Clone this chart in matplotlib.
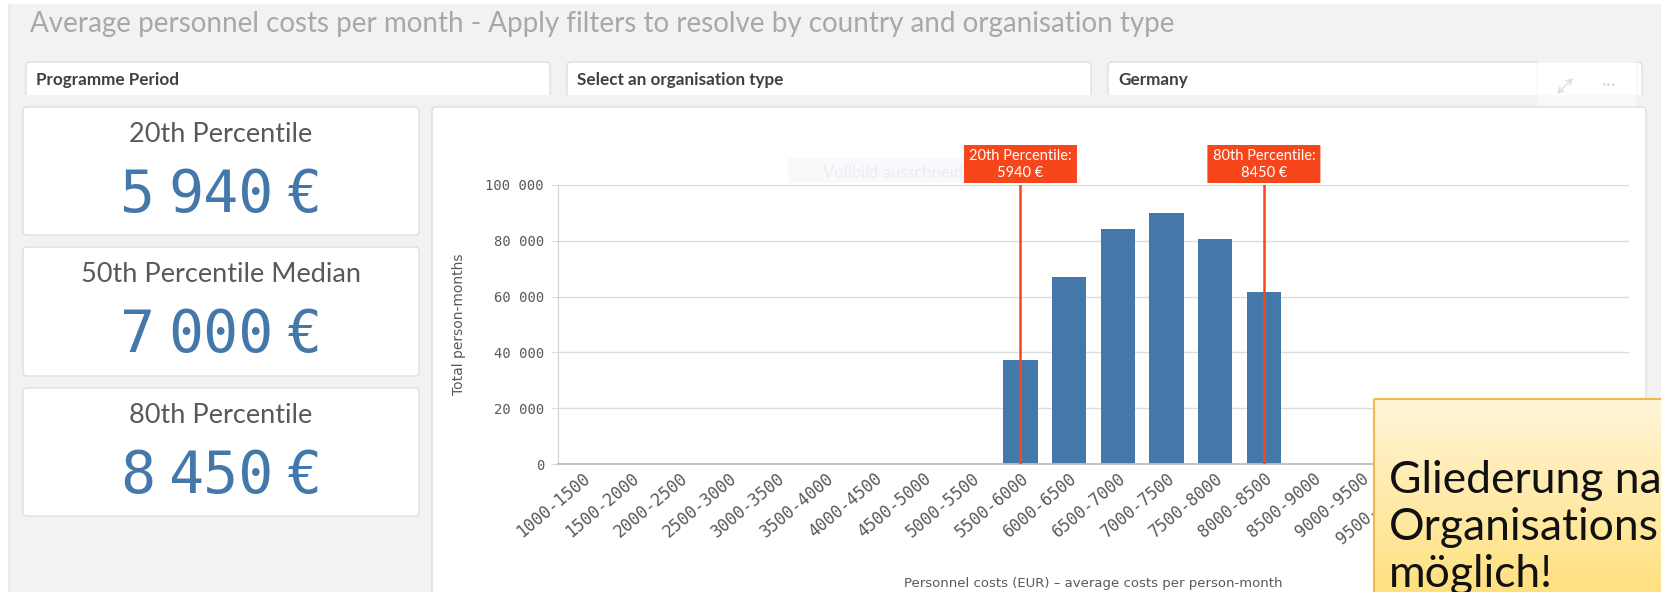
import matplotlib

matplotlib.use("Agg")
import matplotlib.pyplot as plt
import numpy as np
from matplotlib import transforms
from matplotlib.colors import LinearSegmentedColormap
from matplotlib.patches import FancyBboxPatch, Rectangle
from matplotlib.ticker import FuncFormatter

W, H = 1661, 592

# ---- data ------------------------------------------------------------------
title = "Average personnel costs per month - Apply filters to resolve by country and organisation type"
filters = ["Programme Period", "Select an organisation type", "Germany"]
cost_bins = [
    "1000-1500", "1500-2000", "2000-2500", "2500-3000", "3000-3500", "3500-4000",
    "4000-4500", "4500-5000", "5000-5500", "5500-6000", "6000-6500", "6500-7000",
    "7000-7500", "7500-8000", "8000-8500", "8500-9000", "9000-9500", "9500-10000",
    "10000-10500", "10500-11000", "11000-11500", "11500-12000",
]
person_months = [
    0, 0, 0, 0, 0, 0,
    0, 0, 0, 37400, 67200, 84400,
    89900, 80600, 61600, 0, 0, 0,
    0, 0, 0, 0,
]
kpi_names = ["20th Percentile", "50th Percentile Median", "80th Percentile"]
kpi_values = [5940, 7000, 8450]
ref_names = ["20th Percentile", "80th Percentile"]
ref_values = [5940, 8450]
# the note runs off the right edge of the dashboard; only this much is on screen
callout_lines = ["Gliederung na", "Organisations", "möglich!"]

BLUE = "#4477aa"
RED = "#f8461c"
TXT = "#595959"
EDGE = "#dedede"
BG = "#f2f2f2"
MONO = "DejaVu Sans Mono"
SANS = "Lato"

fig = plt.figure(figsize=(W / 100, H / 100), dpi=100)

# pixel-space canvas for the dashboard chrome
bg = fig.add_axes([0, 0, 1, 1])
bg.set_xlim(0, W); bg.set_ylim(H, 0); bg.axis("off")


def px_axes(x0, y0, x1, y1, **kw):
    return fig.add_axes([x0 / W, 1 - y1 / H, (x1 - x0) / W, (y1 - y0) / H], **kw)


def panel(ax, x0, y0, x1, y1, fc="white", ec=EDGE, r=4, **kw):
    ax.add_patch(FancyBboxPatch((x0, y0), x1 - x0, y1 - y0,
                                boxstyle=f"round,pad=0,rounding_size={r}",
                                fc=fc, ec=ec, lw=1, **kw))


def money(ax, cx, base, v, size, color):
    """Monospace amount with narrow thousands gap, e.g. 5 940 €."""
    parts = f"{v:,}".replace(",", " ").split() + ["€"]
    em = size * 100 / 72
    adv, gap = 0.602 * em, 0.22 * em
    widths = [len(p) * adv for p in parts]
    x = cx - (sum(widths) + gap * (len(parts) - 1)) / 2
    for p, w in zip(parts, widths):
        ax.text(x, base, p, ha="left", va="baseline", fontsize=size,
                family=MONO, color=color)
        x += w + gap


bg.add_patch(Rectangle((0, 0), W, H, fc=BG, ec="none"))
bg.add_patch(Rectangle((0, 0), 8, H, fc="white", ec="none"))
bg.add_patch(Rectangle((0, 0), W, 4, fc="white", ec="none"))
bg.plot([9, 9], [4, H], color="#e6e6e6", lw=1)

bg.text(30, 32, title, fontsize=20, family=SANS, color="#a8a8a8", va="baseline")

# filter bar
for (x0, x1), name in zip([(26, 550), (567, 1091), (1108, 1642)], filters):
    panel(bg, x0, 62, x1, 104)
    bg.text(x0 + 10, 80, name, fontsize=12.3, fontweight="bold", family=SANS,
            color="#404040", va="center")
bg.add_patch(Rectangle((10, 95), W, 12, fc=BG, ec="none"))
panel(bg, 1537, 60, 1637, 116, fc="white", ec="#f0f0f0", alpha=0.55)
bg.annotate("", xy=(1575, 76), xytext=(1555, 96),
            arrowprops=dict(arrowstyle="<->", color="#dcdcdc", lw=1))
bg.text(1609, 86, "•••", fontsize=6, color="#d6d6d6", ha="center", va="center")

# KPI cards
for (y0, y1), name, v in zip([(107, 235), (247, 376), (388, 516)], kpi_names, kpi_values):
    panel(bg, 23, y0, 419, y1)
    bg.text(221, y0 + 35, name, fontsize=19.5, family=SANS, color=TXT,
            ha="center", va="baseline")
    money(bg, 221, y0 + 105, v, 42, BLUE)

# chart panel
panel(bg, 432, 107, 1646, 620)
bg.add_patch(Rectangle((788, 158), 182, 25, fc="#f8f9fb", ec="none"))
bg.text(823, 178, "Vollbild ausschneiden", fontsize=12, family=SANS,
        color="#ebedf0", va="baseline")

ax = px_axes(558, 185, 1629, 464)
x = np.arange(len(cost_bins))
ax.bar(x, person_months, width=0.70, color=BLUE, zorder=2)
ax.set_xlim(-0.5, len(cost_bins) - 0.5)
ax.set_ylim(0, 100000)
ax.set_yticks(np.arange(0, 100001, 20000))
ax.yaxis.set_major_formatter(FuncFormatter(lambda v, _: f"{int(v):,}".replace(",", " ")))
ax.grid(axis="y", color="#dcdcdc", lw=1, zorder=0)
ax.set_axisbelow(True)
for s in ("top", "right"):
    ax.spines[s].set_visible(False)
ax.spines["left"].set_color("#d0d0d0")
ax.spines["bottom"].set_color("#bdbdbd")
ax.spines["bottom"].set_linewidth(1.3)
ax.tick_params(axis="y", length=5, color="#dcdcdc", labelcolor=TXT, labelsize=10, pad=5)
ax.tick_params(axis="x", length=0, labelcolor=TXT, labelsize=12, pad=4)
ax.set_xticks(x)
ax.set_xticklabels(cost_bins, rotation=40, ha="right", rotation_mode="anchor")
for lab in ax.get_xticklabels() + ax.get_yticklabels():
    lab.set_family(MONO)
ax.set_ylabel("Total person-months", fontsize=10, color=TXT)
ax.yaxis.set_label_coords(-0.086, 0.5)
ax.set_xlabel("Personnel costs (EUR) – average costs per person-month", fontsize=9.5, color=TXT)
ax.xaxis.set_label_coords(0.5, -0.427)
ax.xaxis.label.set_va("center")

# overlay canvas for reference labels and the note
top = fig.add_axes([0, 0, 1, 1], zorder=10)
top.set_xlim(0, W); top.set_ylim(H, 0); top.axis("off")
top.patch.set_visible(False)
top.set_autoscale_on(False)

edges = [int(b.split("-")[0]) for b in cost_bins]
slot_px = (1629 - 558) / len(cost_bins)
mixed = transforms.blended_transform_factory(ax.transData, top.transData)
for name, v in zip(ref_names, ref_values):
    i = int(np.searchsorted(edges, v, side="right") - 1)
    ax.axvline(i, color=RED, lw=1.8, zorder=3)
    bw = 113 / slot_px
    top.add_patch(FancyBboxPatch((i - bw / 2, 145), bw, 38, transform=mixed,
                                 boxstyle="round,pad=0,rounding_size=0.05",
                                 fc=RED, ec="none"))
    top.text(i, 156, f"{name}:", transform=mixed, ha="center", va="center",
             fontsize=10.5, family=SANS, color="white")
    top.text(i, 173, f"{v} €", transform=mixed, ha="center", va="center",
             fontsize=10.5, family=SANS, color="white")

cmap = LinearSegmentedColormap.from_list("note", ["#fff5d8", "#ffe07c"])
top.imshow(np.linspace(0, 1, 120)[:, None], cmap=cmap, aspect="auto",
           extent=(1374, 1700, 600, 399), origin="upper", zorder=1)
top.add_patch(Rectangle((1374, 399), 400, 300, fill=False, ec="#f2b84b", lw=1.5, zorder=2))
for k, line in enumerate(callout_lines):
    top.text(1389, 493 + 47 * k, line, fontsize=32, family=SANS, color="#111111",
             va="baseline", zorder=3)
top.set_xlim(0, W); top.set_ylim(H, 0)

fig.savefig("out.png", dpi=100)
